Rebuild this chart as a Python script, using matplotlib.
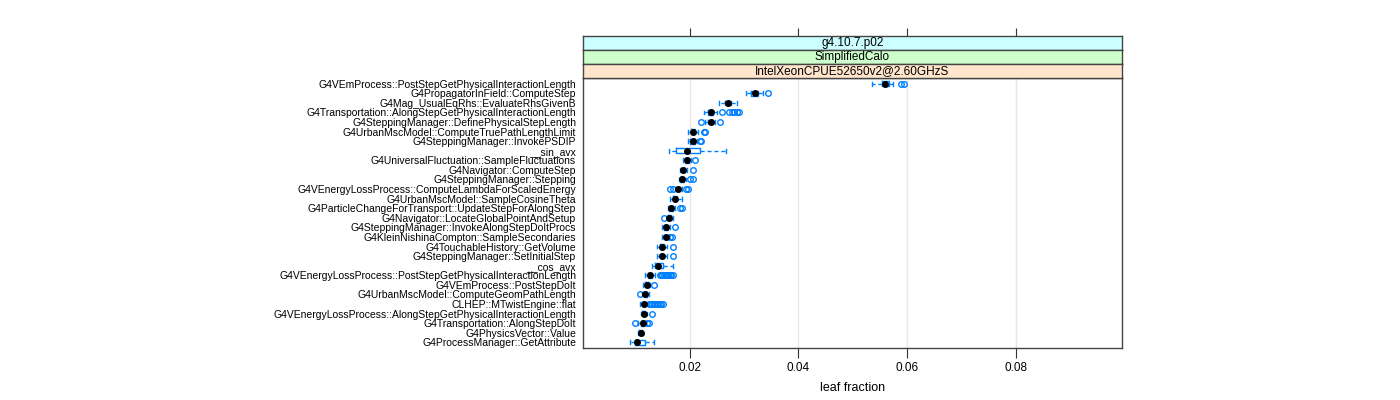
import matplotlib
matplotlib.use("Agg")
import matplotlib.pyplot as plt

plt.rcParams['font.family'] = ['Liberation Sans', 'DejaVu Sans']

# functions, top to bottom
labels = [
    "G4VEmProcess::PostStepGetPhysicalInteractionLength",
    "G4PropagatorInField::ComputeStep",
    "G4Mag_UsualEqRhs::EvaluateRhsGivenB",
    "G4Transportation::AlongStepGetPhysicalInteractionLength",
    "G4SteppingManager::DefinePhysicalStepLength",
    "G4UrbanMscModel::ComputeTruePathLengthLimit",
    "G4SteppingManager::InvokePSDIP",
    "__sin_avx",
    "G4UniversalFluctuation::SampleFluctuations",
    "G4Navigator::ComputeStep",
    "G4SteppingManager::Stepping",
    "G4VEnergyLossProcess::ComputeLambdaForScaledEnergy",
    "G4UrbanMscModel::SampleCosineTheta",
    "G4ParticleChangeForTransport::UpdateStepForAlongStep",
    "G4Navigator::LocateGlobalPointAndSetup",
    "G4SteppingManager::InvokeAlongStepDoItProcs",
    "G4KleinNishinaCompton::SampleSecondaries",
    "G4TouchableHistory::GetVolume",
    "G4SteppingManager::SetInitialStep",
    "__cos_avx",
    "G4VEnergyLossProcess::PostStepGetPhysicalInteractionLength",
    "G4VEmProcess::PostStepDoIt",
    "G4UrbanMscModel::ComputeGeomPathLength",
    "CLHEP::MTwistEngine::flat",
    "G4VEnergyLossProcess::AlongStepGetPhysicalInteractionLength",
    "G4Transportation::AlongStepDoIt",
    "G4PhysicsVector::Value",
    "G4ProcessManager::GetAttribute",
]

whislo = [0.0535, 0.0304, 0.0253, 0.0226, 0.0228, 0.0197, 0.0197, 0.0162, 0.0187, 0.0182,
          0.0179, 0.0173, 0.0163, 0.0160, 0.0159, 0.0148, 0.0149, 0.0139, 0.0139, 0.0130,
          0.0118, 0.0113, 0.0112, 0.0108, 0.0110, 0.0105, 0.0104, 0.0089]
q1 = [0.0553, 0.0313, 0.0265, 0.0233, 0.0233, 0.0202, 0.0201, 0.0175, 0.0191, 0.0184,
      0.0182, 0.0175, 0.0169, 0.0162, 0.0160, 0.0152, 0.0152, 0.0144, 0.0144, 0.0136,
      0.0123, 0.0118, 0.0115, 0.0112, 0.0112, 0.0110, 0.0107, 0.0099]
med = [0.0559, 0.0319, 0.0271, 0.0238, 0.0238, 0.0206, 0.0206, 0.0195, 0.0194, 0.0187,
       0.0185, 0.0178, 0.0172, 0.0166, 0.0162, 0.0156, 0.0155, 0.0148, 0.0148, 0.0142,
       0.0126, 0.0121, 0.0118, 0.0116, 0.0115, 0.0113, 0.0110, 0.0103]
q3 = [0.0567, 0.0325, 0.0276, 0.0242, 0.0242, 0.0210, 0.0209, 0.0219, 0.0198, 0.0191,
      0.0189, 0.0182, 0.0177, 0.0169, 0.0165, 0.0160, 0.0159, 0.0152, 0.0152, 0.0151,
      0.0131, 0.0124, 0.0121, 0.0119, 0.0117, 0.0116, 0.0112, 0.0117]
whishi = [0.0574, 0.0334, 0.0287, 0.0249, 0.0246, 0.0215, 0.0213, 0.0266, 0.0202, 0.0195,
          0.0193, 0.0186, 0.0185, 0.0172, 0.0169, 0.0164, 0.0161, 0.0158, 0.0157, 0.0169,
          0.0135, 0.0127, 0.0124, 0.0122, 0.0120, 0.0118, 0.0114, 0.0134]
fliers = [
    [0.0588, 0.0594],
    [0.0344],
    [],
    [0.0260, 0.0272, 0.0277, 0.0281, 0.0286, 0.0291],
    [0.0220, 0.0256],
    [0.0225, 0.0228],
    [0.0218, 0.0220],
    [],
    [0.0210],
    [0.0206],
    [0.0201, 0.0205],
    [0.0164, 0.0169, 0.0192, 0.0197],
    [],
    [0.0182, 0.0185],
    [0.0153],
    [0.0173],
    [0.0164, 0.0167],
    [0.0169],
    [0.0168],
    [],
    [0.0144, 0.0147, 0.0149, 0.0152, 0.0155, 0.0158, 0.0160, 0.0163, 0.0166, 0.0169],
    [0.0134],
    [0.0108],
    [0.0125, 0.0128, 0.0131, 0.0133, 0.0136, 0.0139, 0.0142, 0.0145, 0.0147, 0.0150],
    [0.0131],
    [0.0099, 0.0121, 0.0124],
    [],
    [],
]

strips = ["g4.10.7.p02", "SimplifiedCalo", "IntelXeonCPUE52650v2@2.60GHzS"]
strip_cols = ["#ccffff", "#ccffcc", "#ffe5cc"]
xticks = [0.02, 0.04, 0.06, 0.08]

blue = "#0080ff"
W, H = 1400, 400
fig = plt.figure(figsize=(14, 4), dpi=100)

left, right, top, bottom = 583, 1122, 78, 348
ax = fig.add_axes([left / W, 1 - bottom / H, (right - left) / W, (bottom - top) / H])

pos = list(range(1, len(labels) + 1))
stats = []
for i in range(len(labels)):
    stats.append(dict(whislo=whislo[i], q1=q1[i], med=med[i], q3=q3[i],
                      whishi=whishi[i], fliers=fliers[i]))

ax.bxp(stats, positions=pos, orientation='horizontal', widths=0.5, capwidths=0.4,
       boxprops=dict(color=blue, lw=1),
       whiskerprops=dict(color=blue, lw=1, linestyle=(0, (3, 2))),
       capprops=dict(color=blue, lw=1),
       medianprops=dict(visible=False),
       flierprops=dict(marker='o', markerfacecolor='none', markeredgecolor=blue,
                       markersize=4, markeredgewidth=1))
ax.plot(med, pos, 'o', color='black', markersize=4, zorder=5)

ax.set_xlim(0.0003, 0.0996)
ax.set_ylim(28.6, 0.4)
for t in xticks:
    ax.axvline(t, color="#e6e6e6", lw=1, zorder=0)
ax.set_xticks(xticks)
ax.set_xticklabels(["0.02", "0.04", "0.06", "0.08"], fontsize=8.5)
ax.tick_params(axis='x', direction='out', length=7, color='#333333', pad=3)
ax.set_yticks(pos)
ax.set_yticklabels(labels, fontsize=7.5)
ax.tick_params(axis='y', length=0, pad=5)
for s in ax.spines.values():
    s.set_color('#444444')
    s.set_linewidth(1)
ax.set_xlabel("leaf fraction", fontsize=9, labelpad=6)

# strips
for k, (txt, col) in enumerate(zip(strips, strip_cols)):
    sy = 36 + 14 * k
    sax = fig.add_axes([left / W, 1 - (sy + 14) / H, (right - left) / W, 14 / H])
    sax.set_facecolor(col)
    sax.set_xlim(ax.get_xlim())
    sax.set_yticks([])
    sax.text(0.5, 0.5, txt, ha='center', va='center', fontsize=8.5, transform=sax.transAxes)
    for s in sax.spines.values():
        s.set_color('#444444')
        s.set_linewidth(1)
    if k == 0:
        sax.xaxis.set_ticks_position('top')
        sax.set_xticks(xticks)
        sax.set_xticklabels([])
        sax.tick_params(axis='x', direction='out', length=6, color='#333333')
    else:
        sax.set_xticks([])

fig.savefig("out.png", dpi=100)
